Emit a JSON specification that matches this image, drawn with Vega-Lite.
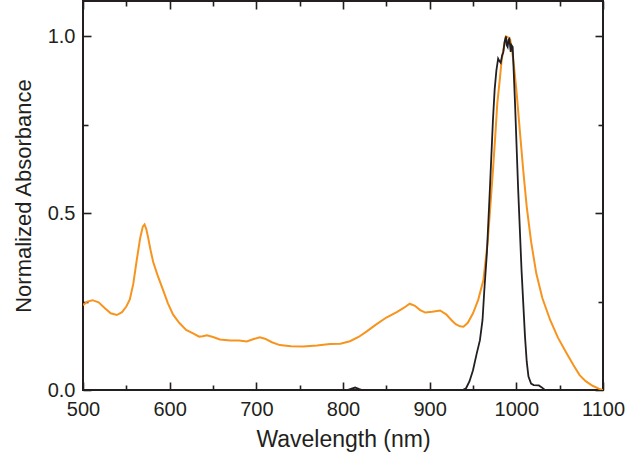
{
  "$schema": "https://vega.github.io/schema/vega-lite/v6.json",
  "width": 520,
  "height": 389,
  "autosize": {"type": "none"},
  "padding": {"left": 83, "top": 1, "right": 22, "bottom": 66},
  "background": "white",
  "config": {
    "view": {"stroke": "#231F20", "strokeWidth": 2},
    "axis": {
      "domain": false,
      "grid": false,
      "labelFont": "Liberation Sans",
      "titleFont": "Liberation Sans",
      "labelFontSize": 20,
      "titleFontSize": 22,
      "titleFontWeight": "normal",
      "labelColor": "#231F20",
      "titleColor": "#231F20",
      "tickColor": "#231F20",
      "tickWidth": 1.6
    }
  },
  "datasets": {
    "orange": [
      {"nm": 500, "abs": 0.240}, {"nm": 505, "abs": 0.250}, {"nm": 511, "abs": 0.254}, {"nm": 518, "abs": 0.248},
      {"nm": 525, "abs": 0.232}, {"nm": 532, "abs": 0.217}, {"nm": 539, "abs": 0.212}, {"nm": 545, "abs": 0.220},
      {"nm": 550, "abs": 0.236}, {"nm": 554, "abs": 0.256}, {"nm": 558, "abs": 0.300}, {"nm": 562, "abs": 0.367},
      {"nm": 566, "abs": 0.430}, {"nm": 569, "abs": 0.462}, {"nm": 571, "abs": 0.468}, {"nm": 573, "abs": 0.455},
      {"nm": 575, "abs": 0.433}, {"nm": 578, "abs": 0.395}, {"nm": 581, "abs": 0.362}, {"nm": 586, "abs": 0.325},
      {"nm": 592, "abs": 0.285}, {"nm": 598, "abs": 0.245}, {"nm": 604, "abs": 0.213}, {"nm": 611, "abs": 0.190},
      {"nm": 619, "abs": 0.170}, {"nm": 627, "abs": 0.160}, {"nm": 634, "abs": 0.151}, {"nm": 638, "abs": 0.152},
      {"nm": 643, "abs": 0.155}, {"nm": 650, "abs": 0.150}, {"nm": 658, "abs": 0.143}, {"nm": 670, "abs": 0.140},
      {"nm": 680, "abs": 0.140}, {"nm": 689, "abs": 0.137}, {"nm": 697, "abs": 0.144}, {"nm": 704, "abs": 0.149},
      {"nm": 710, "abs": 0.145}, {"nm": 718, "abs": 0.135}, {"nm": 727, "abs": 0.127}, {"nm": 740, "abs": 0.124},
      {"nm": 754, "abs": 0.123}, {"nm": 770, "abs": 0.126}, {"nm": 785, "abs": 0.130}, {"nm": 797, "abs": 0.131},
      {"nm": 808, "abs": 0.138}, {"nm": 818, "abs": 0.150}, {"nm": 827, "abs": 0.165}, {"nm": 838, "abs": 0.185},
      {"nm": 850, "abs": 0.205}, {"nm": 862, "abs": 0.220}, {"nm": 870, "abs": 0.232}, {"nm": 877, "abs": 0.244},
      {"nm": 883, "abs": 0.238}, {"nm": 889, "abs": 0.226}, {"nm": 895, "abs": 0.219}, {"nm": 903, "abs": 0.221},
      {"nm": 912, "abs": 0.225}, {"nm": 919, "abs": 0.214}, {"nm": 925, "abs": 0.198}, {"nm": 930, "abs": 0.186},
      {"nm": 935, "abs": 0.180}, {"nm": 939, "abs": 0.179}, {"nm": 944, "abs": 0.190}, {"nm": 950, "abs": 0.217},
      {"nm": 956, "abs": 0.255}, {"nm": 962, "abs": 0.311}, {"nm": 967, "abs": 0.420}, {"nm": 970, "abs": 0.520},
      {"nm": 973, "abs": 0.620}, {"nm": 976, "abs": 0.730}, {"nm": 978, "abs": 0.810}, {"nm": 981, "abs": 0.880},
      {"nm": 983, "abs": 0.932}, {"nm": 986, "abs": 0.975}, {"nm": 988, "abs": 1.000}, {"nm": 990, "abs": 0.998},
      {"nm": 993, "abs": 0.990}, {"nm": 995, "abs": 0.960}, {"nm": 997, "abs": 0.923}, {"nm": 1000, "abs": 0.850},
      {"nm": 1004, "abs": 0.734}, {"nm": 1008, "abs": 0.620}, {"nm": 1012, "abs": 0.518}, {"nm": 1017, "abs": 0.420},
      {"nm": 1023, "abs": 0.330}, {"nm": 1030, "abs": 0.260}, {"nm": 1039, "abs": 0.198}, {"nm": 1048, "abs": 0.148},
      {"nm": 1058, "abs": 0.104}, {"nm": 1066, "abs": 0.070}, {"nm": 1073, "abs": 0.042}, {"nm": 1080, "abs": 0.025},
      {"nm": 1088, "abs": 0.012}, {"nm": 1095, "abs": 0.004}, {"nm": 1100, "abs": 0.000}
    ],
    "black": [
      {"nm": 500, "abs": 0}, {"nm": 805, "abs": 0}, {"nm": 810, "abs": 0.004}, {"nm": 814, "abs": 0.007},
      {"nm": 818, "abs": 0.003}, {"nm": 822, "abs": 0}, {"nm": 938, "abs": 0}, {"nm": 942, "abs": 0.005},
      {"nm": 946, "abs": 0.025}, {"nm": 950, "abs": 0.056}, {"nm": 954, "abs": 0.100}, {"nm": 958, "abs": 0.141},
      {"nm": 961, "abs": 0.198}, {"nm": 963, "abs": 0.280}, {"nm": 966, "abs": 0.386}, {"nm": 969.6, "abs": 0.574},
      {"nm": 973, "abs": 0.763}, {"nm": 975, "abs": 0.850}, {"nm": 977, "abs": 0.904}, {"nm": 979, "abs": 0.937},
      {"nm": 980.5, "abs": 0.930}, {"nm": 982, "abs": 0.925}, {"nm": 983.5, "abs": 0.945}, {"nm": 985, "abs": 0.956},
      {"nm": 986.5, "abs": 0.985}, {"nm": 988, "abs": 1.000}, {"nm": 989, "abs": 0.975}, {"nm": 990, "abs": 0.970},
      {"nm": 991, "abs": 0.990}, {"nm": 992, "abs": 0.993}, {"nm": 993.5, "abs": 0.956}, {"nm": 994.5, "abs": 0.975},
      {"nm": 995.8, "abs": 0.970}, {"nm": 997, "abs": 0.900}, {"nm": 998.5, "abs": 0.810}, {"nm": 1002, "abs": 0.574},
      {"nm": 1006, "abs": 0.339}, {"nm": 1010, "abs": 0.151}, {"nm": 1012, "abs": 0.080}, {"nm": 1014, "abs": 0.038},
      {"nm": 1017, "abs": 0.018}, {"nm": 1020, "abs": 0.014}, {"nm": 1026, "abs": 0.013}, {"nm": 1029, "abs": 0.008},
      {"nm": 1033, "abs": 0}, {"nm": 1040, "abs": 0}
    ]
  },
  "resolve": {"axis": {"x": "independent", "y": "independent"}},
  "layer": [
    {
      "data": {"name": "orange"},
      "mark": {"type": "line", "color": "#F7941E", "strokeWidth": 2, "clip": true},
      "encoding": {
        "x": {"field": "nm", "type": "quantitative", "scale": {"domain": [500, 1100], "nice": false, "zero": false},
          "axis": {"orient": "bottom", "title": "Wavelength (nm)", "titleFontSize": 23, "values": [500, 600, 700, 800, 900, 1000, 1100], "format": "d", "tickSize": -8, "labelPadding": 17, "titlePadding": 9, "labelFlush": false, "labelOverlap": false}},
        "y": {"field": "abs", "type": "quantitative", "scale": {"domain": [0, 1.1], "nice": false},
          "axis": {"orient": "left", "title": "Normalized Absorbance", "values": [0, 0.5, 1.0], "format": ".1f", "tickSize": -8, "labelPadding": 16, "titlePadding": 12, "labelFlush": false, "labelOverlap": false}}
      }
    },
    {
      "data": {"name": "black"},
      "mark": {"type": "line", "color": "#231F20", "strokeWidth": 1.8, "clip": true},
      "encoding": {
        "x": {"field": "nm", "type": "quantitative",
          "axis": {"orient": "top", "title": null, "values": [500, 600, 700, 800, 900, 1000, 1100], "labels": false, "tickSize": -8}},
        "y": {"field": "abs", "type": "quantitative",
          "axis": {"orient": "right", "title": null, "values": [0, 0.5, 1.0], "labels": false, "tickSize": -8}}
      }
    },
    {
      "data": {"name": "black"},
      "mark": {"type": "line", "strokeOpacity": 0},
      "encoding": {
        "x": {"field": "nm", "type": "quantitative",
          "axis": {"orient": "bottom", "title": null, "values": [550, 650, 750, 850, 950, 1050], "labels": false, "tickSize": -5}},
        "y": {"field": "abs", "type": "quantitative",
          "axis": {"orient": "left", "title": null, "values": [0.25, 0.75], "labels": false, "tickSize": -5}}
      }
    },
    {
      "data": {"name": "black"},
      "mark": {"type": "line", "strokeOpacity": 0},
      "encoding": {
        "x": {"field": "nm", "type": "quantitative",
          "axis": {"orient": "top", "title": null, "values": [550, 650, 750, 850, 950, 1050], "labels": false, "tickSize": -5}},
        "y": {"field": "abs", "type": "quantitative",
          "axis": {"orient": "right", "title": null, "values": [0.25, 0.75], "labels": false, "tickSize": -5}}
      }
    }
  ]
}
